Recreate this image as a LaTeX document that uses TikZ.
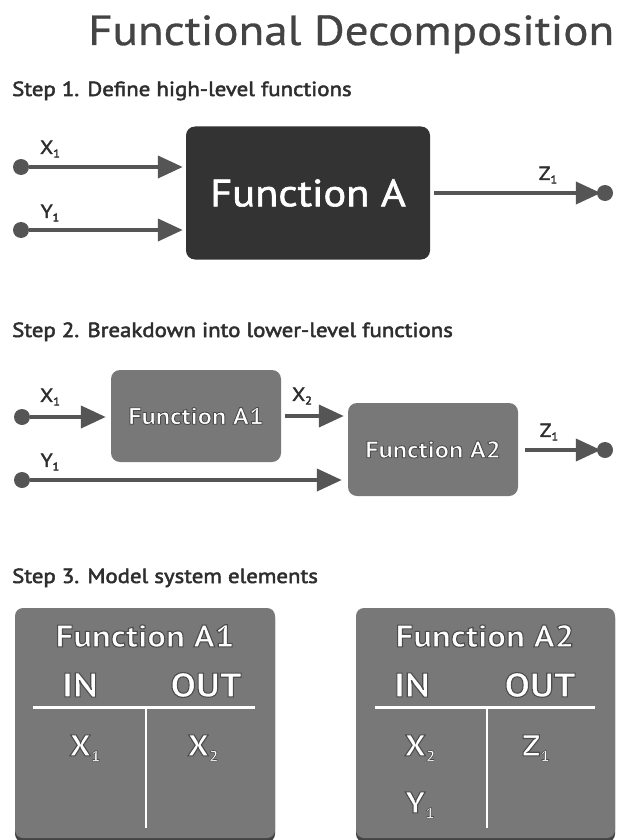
\documentclass[tikz,border=0pt]{standalone}
\usepackage{fontspec}
\setmainfont{PT Sans}[FakeStretch=1.12]
\newfontfamily\rimfont{PT Sans}[FakeStretch=1.12]
\usetikzlibrary{arrows.meta}
\definecolor{inkdark}{HTML}{444444}
\definecolor{inkstep}{HTML}{2E2E2E}
\definecolor{wire}{HTML}{555555}
\definecolor{boxdark}{HTML}{333333}
\definecolor{boxmid}{HTML}{787878}
% glyphs filled and stroked in their own colour, a touch heavier
\newcommand\heavy[2]{\special{pdf:literal direct #1 w 2 Tr}#2\special{pdf:literal direct 0 Tr}}
% white lettering with a thin dark rim (fill white, stroke dark grey)
\newcommand\rimtext[2]{\special{pdf:bcolor [1] [0.3]}\special{pdf:literal direct #1 w 2 Tr}#2\special{pdf:literal direct 0 Tr}\special{pdf:ecolor}}
\newcommand\sub[1]{\raisebox{-0.35ex}{\fontsize{11}{11}\selectfont #1}}
\newcommand\rimsub[1]{\raisebox{-0.35ex}{\fontsize{15}{15}\selectfont\special{pdf:literal direct 0.6 w}#1}}
\begin{document}
\begin{tikzpicture}[x=1pt,y=-1pt,
  dot/.style={circle,fill=wire,inner sep=0pt,minimum size=16pt},
  arr/.style={draw=wire,line width=4pt,-{Triangle[length=25pt,width=22pt]}},
  sigl/.style={text=inkstep,font=\fontsize{19}{19}\selectfont,inner sep=0pt},
  steptxt/.style={anchor=base west,text=inkstep,font=\fontsize{20.4}{20.4}\selectfont,inner sep=0pt},
  funbox/.style={rounded corners=9pt,inner sep=0pt},
  cell/.style={text=white,inner sep=0pt,font=\rimfont\bfseries\fontsize{30}{30}\selectfont},
  rule/.style={draw=white,line width=3pt}]
\useasboundingbox (0,0) rectangle (616,840);
\fill[white] (0,0) rectangle (616,840);

% title
\node[anchor=base west,text=inkdark,inner sep=0pt,font=\fontsize{42}{42}\selectfont] (title) at (88,45) {\heavy{0.3}{Functional Decomposition}};

% ---------- step 1
\node[steptxt] (s1) at (12,96) {\heavy{0.5}{Step 1. Define high-level functions}};
\node[funbox,fill=boxdark,minimum width=244pt,minimum height=133pt,text=white,font=\fontsize{38}{38}\selectfont] (A) at (308,193) {\heavy{0.6}{Function A}};
\node[dot] (a1x) at (21,167) {};
\node[dot] (a1y) at (21,230) {};
\node[dot] (a1z) at (605,193) {};
\draw[arr,shorten >=3pt] (a1x) -- (a1x -| A.west);
\draw[arr,shorten >=3pt] (a1y) -- (a1y -| A.west);
\draw[arr,shorten <=4pt,shorten >=-4pt] (a1z -| A.east) -- (a1z.west);
\node[sigl] (l1x) at (50,149) {\heavy{0.4}{X\sub{1}}};
\node[sigl] (l1y) at (50,213) {\heavy{0.4}{Y\sub{1}}};
\node[sigl] (l1z) at (548,175) {\heavy{0.4}{Z\sub{1}}};

% ---------- step 2
\node[steptxt] (s2) at (12,337) {\heavy{0.5}{Step 2. Breakdown into lower-level functions}};
\node[funbox,fill=boxmid,minimum width=170pt,minimum height=92pt,text=white,font=\rimfont\bfseries\fontsize{23.5}{23.5}\selectfont] (A1) at (196,416) {\rimtext{0.9}{Function A1}};
\node[funbox,fill=boxmid,minimum width=170pt,minimum height=93pt,text=white,font=\rimfont\bfseries\fontsize{23.5}{23.5}\selectfont] (A2) at (433,449.5) {\rimtext{0.9}{Function A2}};
\node[dot] (b1x) at (22,417) {};
\node[dot] (b1y) at (22,480) {};
\node[dot] (b2z) at (605,450) {};
\draw[arr,shorten >=5pt] (b1x) -- (b1x -| A1.west);
\draw[arr,shorten <=4pt,shorten >=4pt] (A1.east) -- (A1.east -| A2.west);
\draw[arr,shorten >=6pt] (b1y) -- (b1y -| A2.west);
\draw[arr,shorten <=7pt,shorten >=-4pt] (b2z -| A2.east) -- (b2z.west);
\node[sigl] (l2x) at (50,397) {\heavy{0.4}{X\sub{1}}};
\node[sigl] (l2x2) at (302,396) {\heavy{0.4}{X\sub{2}}};
\node[sigl] (l2y) at (50,462) {\heavy{0.4}{Y\sub{1}}};
\node[sigl] (l2z) at (549,432) {\heavy{0.4}{Z\sub{1}}};

% ---------- step 3
\node[steptxt] (s3) at (12,583) {\heavy{0.5}{Step 3. Model system elements}};

% element table for Function A1
\fill[inkdark,rounded corners=8pt] (15,610) rectangle (275,842);
\fill[boxmid,rounded corners=8pt] (15,608) rectangle (275,838);
\node[cell,font=\rimfont\bfseries\fontsize{31}{31}\selectfont] (t1h) at (145,636) {\rimtext{1.1}{Function A1}};
\node[cell,font=\rimfont\bfseries\fontsize{34}{34}\selectfont] (t1in) at (80,685) {\rimtext{1.1}{IN}};
\node[cell,font=\rimfont\bfseries\fontsize{34}{34}\selectfont] (t1out) at (206,685) {\rimtext{1.1}{OUT}};
\coordinate (t1l) at (33,707);
\coordinate (t1r) at (255,707);
\coordinate (t1m) at (146,707);
\coordinate (t1b) at (146,828);
\draw[rule] (t1l) -- (t1r);
\draw[rule,line width=2.5pt] (t1m) -- (t1b);
\node[cell] (t1x1) at (85,748) {\rimtext{1.1}{X\rimsub{1}}};
\node[cell] (t1x2) at (203,748) {\rimtext{1.1}{X\rimsub{2}}};

% element table for Function A2
\fill[inkdark,rounded corners=8pt] (356,610) rectangle (615,842);
\fill[boxmid,rounded corners=8pt] (356,608) rectangle (615,838);
\node[cell,font=\rimfont\bfseries\fontsize{31}{31}\selectfont] (t2h) at (485,636) {\rimtext{1.1}{Function A2}};
\node[cell,font=\rimfont\bfseries\fontsize{34}{34}\selectfont] (t2in) at (412,685) {\rimtext{1.1}{IN}};
\node[cell,font=\rimfont\bfseries\fontsize{34}{34}\selectfont] (t2out) at (540,685) {\rimtext{1.1}{OUT}};
\coordinate (t2l) at (375,707);
\coordinate (t2r) at (595,707);
\coordinate (t2m) at (487,707);
\coordinate (t2b) at (487,828);
\draw[rule] (t2l) -- (t2r);
\draw[rule,line width=2.5pt] (t2m) -- (t2b);
\node[cell] (t2x2) at (420,748) {\rimtext{1.1}{X\rimsub{2}}};
\node[cell] (t2y1) at (420,805) {\rimtext{1.1}{Y\rimsub{1}}};
\node[cell] (t2z1) at (536,748) {\rimtext{1.1}{Z\rimsub{1}}};
\end{tikzpicture}
\end{document}
